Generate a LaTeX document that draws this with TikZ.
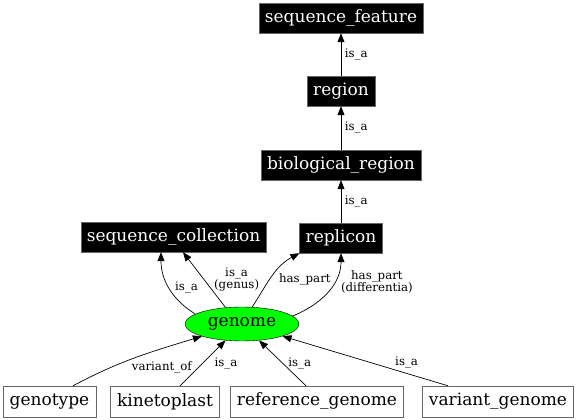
\documentclass[tikz,border=0pt]{standalone}
\usepackage{fontspec}
\setmainfont{DejaVu Serif}
\usetikzlibrary{positioning,arrows.meta,shapes.geometric}
\definecolor{genomegreen}{HTML}{00FF00}
\definecolor{boxedge}{HTML}{666666}
\newcommand{\boxfont}{\fontsize{17}{18}\selectfont}
\newcommand{\relfont}{\fontsize{11.8}{12}\selectfont}
\tikzset{
  term/.style={fill=black, text=white, draw=boxedge, font=\boxfont, minimum height=30pt, inner xsep=6pt},
  leaf/.style={fill=white, draw=boxedge, font=\boxfont, minimum height=31pt, inner xsep=6.5pt},
  rel/.style={-{Triangle[length=9pt,width=7pt]}, line width=0.7pt},
  lab/.style={font=\relfont, inner sep=1.5pt, align=center}
}

\begin{document}
\begin{tikzpicture}[x=1pt,y=1pt]
  \useasboundingbox (0,0) rectangle (576,420);
  % upper chain
  \node[term] (sf)       at (341,402)   {sequence\_feature};
  \node[term] (region)   at (341,329)   {region};
  \node[term] (bio)      at (341,255)   {biological\_region};
  \node[term] (seqcol)   at (173.5,183) {sequence\_collection};
  \node[term] (replicon) at (341,182)   {replicon};
  \node[ellipse, draw=black, fill=genomegreen, minimum width=114pt, minimum height=34pt,
        inner sep=0pt, font=\boxfont] (genome) at (242,96) {genome};
  % lower row
  \node[leaf] (genotype) at (49.5,18.5) {genotype};
  \node[leaf] (kineto)   at (165,18.5)  {kinetoplast};
  \node[leaf] (refgen)   at (317,18.5)  {reference\_genome};
  \node[leaf] (vargen)   at (498,18.5)  {variant\_genome};

  \draw[rel] (region) -- node[lab,right=2pt]{is\_a} (sf);
  \draw[rel] (bio) -- node[lab,right=2pt]{is\_a} (region);
  \draw[rel] (replicon) -- node[lab,right=2pt]{is\_a} (bio);

  \draw[rel] (genome.168) to[out=148,in=-90] node[lab,pos=.5,right=4pt]{is\_a} ([xshift=-12.5pt]seqcol.south);
  \draw[rel] (genome.135) -- node[lab,right=8pt]{is\_a\\(genus)} ([xshift=9.5pt]seqcol.south);
  \draw[rel] (genome.59.5) to[out=57,in=208] node[lab,pos=.45,right=7pt]{has\_part} (replicon.south west);
  \draw[rel] (genome.9) to[out=22,in=-90] node[lab,pos=.65,right=5pt]{has\_part\\(differentia)} (replicon.south);

  \draw[rel] ([xshift=23.5pt]genotype.north) to[out=28,in=197] node[lab,pos=.45,anchor=north west]{variant\_of} (genome.197);
  \draw[rel] ([xshift=15pt]kineto.north) -- node[lab,right=10pt]{is\_a} (genome);
  \draw[rel] ([xshift=-11pt]refgen.north) -- node[lab,right=4pt]{is\_a} (genome);
  \draw[rel] ([xshift=-50pt]vargen.north) -- node[lab,pos=.25,above=3pt]{is\_a} (genome);
\end{tikzpicture}
\end{document}
